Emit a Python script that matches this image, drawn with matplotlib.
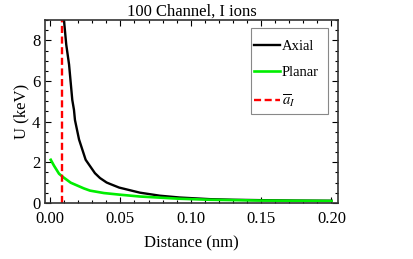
import matplotlib
matplotlib.use("Agg")
import matplotlib.pyplot as plt
from matplotlib.patches import Rectangle
from matplotlib.ticker import MultipleLocator

plt.rcParams['font.family'] = ['Liberation Serif', 'DejaVu Serif']
plt.rcParams['mathtext.fontset'] = 'stix'

# values
axial_x = [0.0099, 0.0115, 0.0135, 0.0158, 0.0170, 0.0177, 0.0206, 0.0253, 0.0319,
           0.0355, 0.0402, 0.0426, 0.0491, 0.0638, 0.078, 0.0922, 0.1135, 0.130,
           0.150, 0.175, 0.200]
axial_u = [9.0, 7.8, 6.82, 5.07, 4.58, 4.08, 3.12, 2.12, 1.46,
           1.22, 1.0, 0.93, 0.75, 0.5, 0.35, 0.26, 0.18, 0.15,
           0.13, 0.11, 0.1]
planar_x = [0.0005, 0.0028, 0.0064, 0.0094, 0.0147, 0.024, 0.0284, 0.0383, 0.0496,
            0.0638, 0.092, 0.1135, 0.150, 0.200]
planar_u = [2.12, 1.83, 1.43, 1.26, 0.99, 0.71, 0.6, 0.48, 0.4,
            0.31, 0.2, 0.15, 0.11, 0.09]
a_bar = 0.0087

fig = plt.figure(figsize=(4.14, 2.59), dpi=100)
ax = fig.add_axes([0.109, 0.217, 0.707, 0.705])

ax.plot(axial_x, axial_u, color='black', lw=1.7, label='Axial')
ax.plot(planar_x, planar_u, color='#00ee00', lw=1.9, label='Planar')
ax.axvline(a_bar, color='red', lw=1.7, ls=(0, (3, 1.5)), label=r'$\overline{a}_I$')

ax.set_xlim(-0.0035, 0.2045)
ax.set_ylim(0, 9)
ax.xaxis.set_major_locator(MultipleLocator(0.05))
ax.xaxis.set_minor_locator(MultipleLocator(0.01))
ax.yaxis.set_major_locator(MultipleLocator(2))
ax.yaxis.set_minor_locator(MultipleLocator(0.5))
ax.xaxis.set_major_formatter(plt.FuncFormatter(lambda v, p: '%.2f' % v))
ax.tick_params(which='both', direction='in', top=True, right=True, labelsize=12,
               width=0.8)
ax.tick_params(which='major', length=4)
ax.tick_params(which='minor', length=2)
ax.tick_params(axis='x', which='major', pad=6)
for s in ax.spines.values():
    s.set_linewidth(1.2)
    s.set_color('#333333')

ax.set_title('100 Channel, I ions', fontsize=12, pad=3)
ax.set_xlabel('Distance (nm)', fontsize=12, labelpad=6)
ax.set_ylabel('U (keV)', fontsize=12, labelpad=2)

# legend frame drawn by hand, Mathematica style
ax.add_patch(Rectangle((0.703, 0.486), 0.263, 0.472, transform=ax.transAxes,
                       facecolor='white', edgecolor='#888888', lw=0.8, zorder=3))
leg = ax.legend(loc='upper left', bbox_to_anchor=(0.703, 0.909), fontsize=10.5,
                frameon=False, handlelength=1.8, handletextpad=0.1,
                labelspacing=0.9, borderpad=0.2, borderaxespad=0)
leg.set_zorder(4)

fig.savefig('out.png', dpi=100)
